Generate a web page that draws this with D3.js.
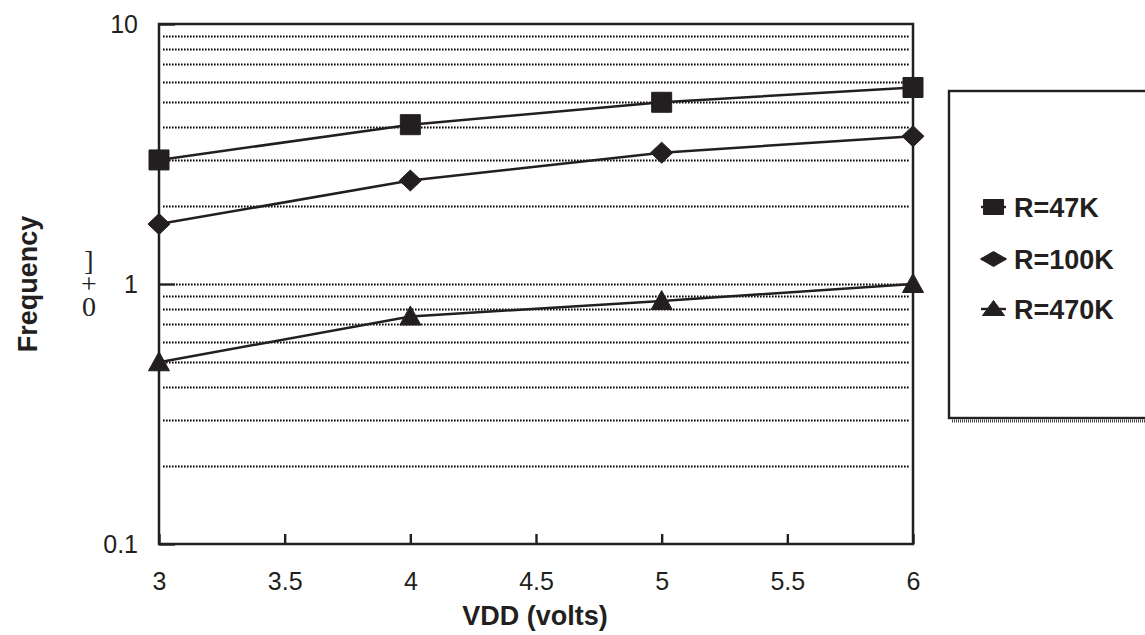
<!DOCTYPE html>
<meta charset="utf-8">
<style>
body { margin: 0; background: #fff; }
svg { display: block; font-family: Arial, "Liberation Sans", sans-serif; }
.tick text { font-size: 25px; fill: #231f20; }
.tick line { stroke: #231f20; stroke-width: 2.4px; }
.grid line { stroke: #000; stroke-width: 1.8px; stroke-dasharray: 1.6,1.4; }
.frame { fill: none; stroke: #231f20; stroke-width: 2.5px; }
.series { fill: none; stroke: #231f20; stroke-width: 2.5px; }
.title { font-size: 27px; font-weight: bold; fill: #231f20; }
.legend text { font-size: 27px; font-weight: bold; fill: #231f20; }
.stray { writing-mode: vertical-rl; text-orientation: upright; letter-spacing: -8px; }
</style>
<body>
<svg id="chart"></svg>
<script src="https://d3js.org/d3.v7.min.js"></script>
<script>

var width = 1145,
    height = 635;

// data
var vdd = [3, 4, 5, 6];
var seriesNames = ["R=47K", "R=100K", "R=470K"];
var r47k = [3.0, 4.1, 5.0, 5.7];
var r100k = [1.7, 2.5, 3.2, 3.7];
var r470k = [0.5, 0.75, 0.86, 1.0];
var symbols = ["square", "diamond", "triangle"];

var xTicks = [3, 3.5, 4, 4.5, 5, 5.5, 6];
var yTicks = [0.1, 1, 10];
var yTickLabels = ["0.1", "1", "10"];

var x = d3.scaleLinear()
    .domain([3, 6])
    .range([159, 913]);

var y = d3.scaleLog()
    .domain([0.1, 10])
    .range([544, 24]);

var svg = d3.select("#chart")
    .attr("width", width)
    .attr("height", height);

// dotted minor grid (every log step except the frame edges)
var gridValues = y.ticks().filter(function(d) { return d > 0.1 + 1e-9 && d < 10 - 1e-9; });

svg.append("g")
    .attr("class", "grid")
  .selectAll("line")
  .data(gridValues)
  .enter().append("line")
    .attr("x1", function(d) { return Math.abs(d - 1) < 1e-9 ? 176 : 163; })
    .attr("x2", 910)
    .attr("y1", function(d) { return Math.round(y(d)) + 0.5; })
    .attr("y2", function(d) { return Math.round(y(d)) + 0.5; });

// axes
var xAxis = svg.append("g")
    .attr("transform", "translate(0," + y(0.1) + ")")
    .call(d3.axisBottom(x)
      .tickValues(xTicks)
      .tickSize(-10)
      .tickPadding(28)
      .tickFormat(function(d) { return String(d); }));
xAxis.select(".domain").remove();

var yAxis = svg.append("g")
    .attr("transform", "translate(" + x(3) + ",0)")
    .call(d3.axisLeft(y)
      .tickValues(yTicks)
      .tickSize(-16)
      .tickPadding(21)
      .tickFormat(function(d, i) { return yTickLabels[i]; }));
yAxis.select(".domain").remove();

svg.append("rect")
    .attr("class", "frame")
    .attr("x", x(3))
    .attr("y", y(10))
    .attr("width", x(6) - x(3))
    .attr("height", y(0.1) - y(10));

// series
var data = [r47k, r100k, r470k];

var line = d3.line()
    .x(function(d, i) { return x(vdd[i]); })
    .y(function(d) { return y(d); });

// marker outline centred on 0,0, w wide and h tall
function marker(name, w, h) {
  var a = w / 2, b = h / 2;
  if (name === "square") return "M" + (-a) + "," + (-b) + "h" + w + "v" + h + "h" + (-w) + "Z";
  if (name === "diamond") return "M0," + (-b) + "L" + a + ",0L0," + b + "L" + (-a) + ",0Z";
  return "M0," + (-b) + "L" + a + "," + b + "L" + (-a) + "," + b + "Z";
}

var markerSize = { square: [20, 20], diamond: [22, 21], triangle: [21, 19] };

data.forEach(function(vals, s) {
  svg.append("path")
      .datum(vals)
      .attr("class", "series")
      .attr("d", line);

  var sz = markerSize[symbols[s]];
  svg.append("g").selectAll("path")
    .data(vals)
    .enter().append("path")
      .attr("d", marker(symbols[s], sz[0], sz[1]))
      .attr("fill", "#231f20")
      .attr("stroke", "#231f20")
      .attr("stroke-width", 1)
      .attr("stroke-linejoin", "round")
      .attr("transform", function(d, i) {
        var dy = symbols[s] === "triangle" ? -1 : 0;
        return "translate(" + x(vdd[i]) + "," + (y(d) + dy) + ")";
      });
});

// axis titles
svg.append("text")
    .attr("class", "title")
    .attr("x", 535)
    .attr("y", 625)
    .attr("text-anchor", "middle")
    .text("VDD (volts)");

svg.append("text")
    .attr("class", "title")
    .attr("transform", "translate(37,284)rotate(-90)")
    .attr("text-anchor", "middle")
    .text("Frequency");

// stray glyphs beside the y title, stacked upright in one text
svg.append("text")
    .attr("class", "stray")
    .attr("x", 89)
    .attr("y", 245)
    .attr("font-family", "'Liberation Serif', 'DejaVu Serif', serif")
    .attr("font-size", 28)
    .attr("fill", "#231f20")
    .text("]+0");

// legend
var legend = svg.append("g").attr("class", "legend");

legend.append("line")
    .attr("x1", 952).attr("x2", 1148)
    .attr("y1", 421).attr("y2", 421)
    .attr("stroke", "#444")
    .attr("stroke-width", 3)
    .attr("stroke-dasharray", "1,1");

legend.append("rect")
    .attr("x", 949)
    .attr("y", 91)
    .attr("width", 210)
    .attr("height", 327)
    .attr("fill", "#fff")
    .attr("stroke", "#231f20")
    .attr("stroke-width", 2.4);

var rowY = [207, 259, 309];
var legendSize = { square: [20, 15], diamond: [26, 15], triangle: [22, 15] };

seriesNames.forEach(function(name, s) {
  var g = legend.append("g")
      .attr("transform", "translate(0," + rowY[s] + ")");
  g.append("line")
      .attr("x1", 981).attr("x2", 1006)
      .attr("y1", 0).attr("y2", 0)
      .attr("stroke", "#231f20")
      .attr("stroke-width", 2.4);
  var sz = legendSize[symbols[s]];
  g.append("path")
      .attr("d", marker(symbols[s], sz[0], sz[1]))
      .attr("fill", "#231f20")
      .attr("stroke", "#231f20")
      .attr("stroke-linejoin", "round")
      .attr("transform", "translate(993.5," + (symbols[s] === "triangle" ? -1 : 0) + ")");
  g.append("text")
      .attr("x", 1014)
      .attr("y", 10)
      .text(name);
});

</script>
</body>
